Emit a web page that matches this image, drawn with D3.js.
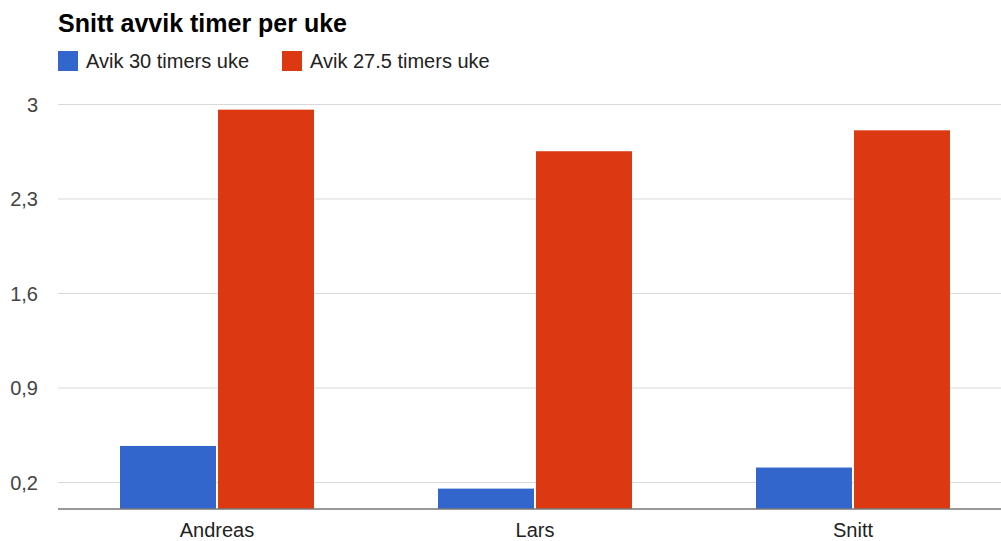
<!DOCTYPE html>
<html>
<head>
<meta charset="utf-8">
<script src="https://cdn.jsdelivr.net/npm/d3@7"></script>
<style>
  body { margin: 0; background: #fff; }
  svg { display: block; font-family: "Liberation Sans", Arial, sans-serif; }
</style>
</head>
<body>
<div id="chart"></div>
<script>
"use strict";

// data
var people = ["Andreas", "Lars", "Snitt"];
var seriesNames = ["Avik 30 timers uke", "Avik 27.5 timers uke"];
var avvik30 = [0.467, 0.151, 0.307];
var avvik275 = [2.958, 2.65, 2.805];
var yTicks = [0.2, 0.9, 1.6, 2.3, 3];
var colors = ["#3366cc", "#dc3912"];

var rows = people.map((p, i) => ({name: p, values: [avvik30[i], avvik275[i]]}));

var W = 1001, H = 541;
var margin = {top: 104, left: 58, right: -11, bottom: 32};
var height = H - margin.top - margin.bottom;

var svg = d3.select("#chart")
    .append("svg")
    .attr("width", W)
    .attr("height", H);

// title
svg.append("text")
    .attr("x", 58)
    .attr("y", 32)
    .style("font-size", "25px")
    .style("font-weight", "bold")
    .attr("fill", "#000")
    .text("Snitt avvik timer per uke");

// legend
var legendX = [58, 282];
var legend = svg.selectAll(".legend")
    .data(seriesNames)
    .enter().append("g")
    .attr("class", "legend")
    .attr("transform", (d, i) => "translate(" + legendX[i] + ",51)");
legend.append("rect")
    .attr("width", 20)
    .attr("height", 20)
    .attr("fill", (d, i) => colors[i]);
legend.append("text")
    .attr("x", 28)
    .attr("y", 17)
    .style("font-size", "20px")
    .attr("fill", "#222")
    .text(d => d);

var g = svg.append("g")
    .attr("transform", "translate(0," + margin.top + ")");

var x0 = d3.scaleBand()
    .domain(people)
    .range([margin.left, W - margin.right])
    .paddingInner(0.39)
    .paddingOuter(0.195);

var x1 = d3.scaleBand()
    .domain(d3.range(seriesNames.length))
    .range([0, x0.bandwidth()]);

var y = d3.scaleLinear()
    .domain([0, 3])
    .range([height, 0]);

// gridlines + y labels
var yAxis = g.append("g")
    .call(d3.axisLeft(y)
        .tickValues(yTicks)
        .tickSize(-(W - margin.left))
        .tickFormat(d => String(d).replace(".", ",")))
    .attr("transform", "translate(" + margin.left + ",0)");
yAxis.select(".domain").remove();
yAxis.selectAll(".tick line").attr("stroke", "#d9d9d9").attr("stroke-width", 1.2);
yAxis.selectAll(".tick text")
    .attr("x", -20)
    .attr("dy", "0.35em")
    .style("font-size", "20px")
    .style("font-family", "\"Liberation Sans\", Arial, sans-serif")
    .attr("fill", "#444");

// bars
var groups = g.selectAll(".group")
    .data(rows)
    .enter().append("g")
    .attr("class", "group")
    .attr("transform", d => "translate(" + x0(d.name) + ",0)");
groups.selectAll("rect")
    .data(d => d.values)
    .enter().append("rect")
    .attr("x", (d, i) => x1(i) + (i === 1 ? 1 : 0))
    .attr("y", d => y(d))
    .attr("width", x1.bandwidth() - 1)
    .attr("height", d => height - y(d))
    .attr("fill", (d, i) => colors[i]);

// baseline
g.append("line")
    .attr("x1", margin.left)
    .attr("x2", W)
    .attr("y1", y(0))
    .attr("y2", y(0))
    .attr("stroke", "#777")
    .attr("stroke-width", 1.5);

// x labels
var xAxis = g.append("g")
    .attr("transform", "translate(0," + height + ")")
    .call(d3.axisBottom(x0).tickSize(0));
xAxis.select(".domain").remove();
xAxis.selectAll(".tick text")
    .attr("dy", 0)
    .attr("y", 28)
    .style("font-size", "20px")
    .style("font-family", "\"Liberation Sans\", Arial, sans-serif")
    .attr("fill", "#222");
</script>
</body>
</html>
